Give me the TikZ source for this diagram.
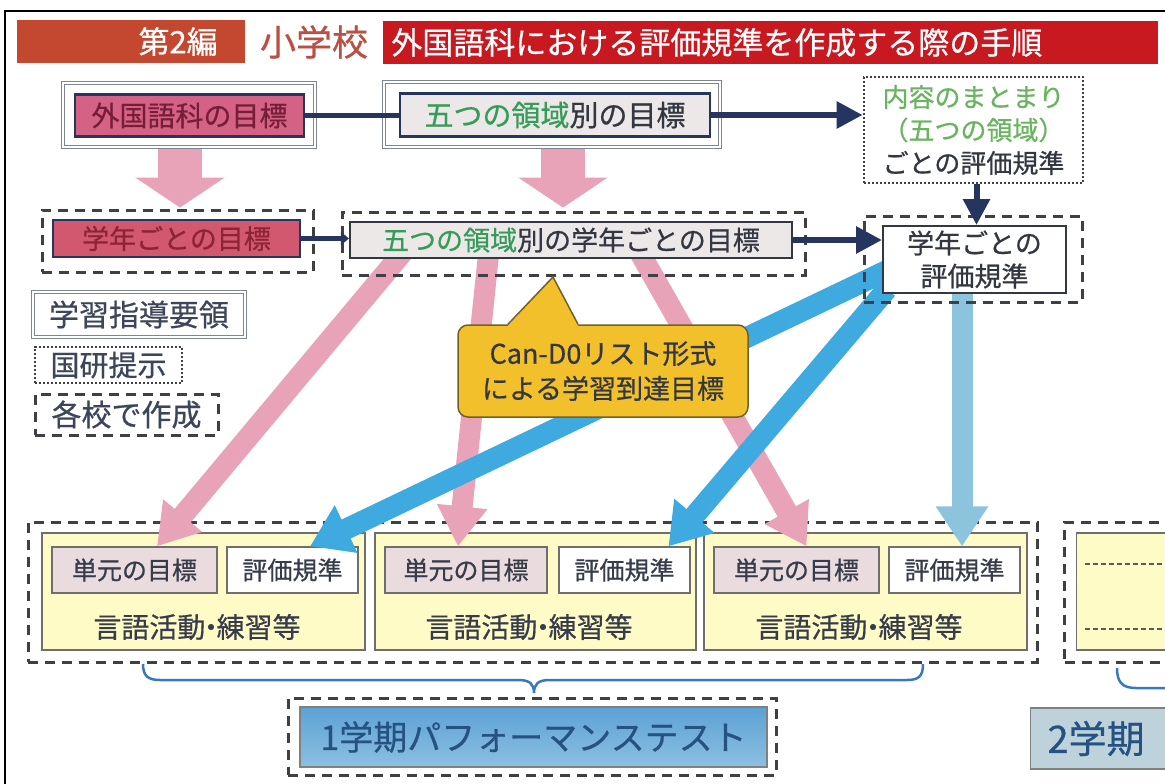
\documentclass[tikz,border=0pt]{standalone}
\usepackage{fontspec}
\setmainfont{Noto Sans CJK JP}[FakeBold=0.6]
\usetikzlibrary{arrows.meta}
\pgfdeclarelayer{bg}
\pgfdeclarelayer{arr}
\pgfsetlayers{bg,arr,main}
\definecolor{titleA}{RGB}{196,72,48}
\definecolor{titleB}{RGB}{200,24,32}
\definecolor{shoR}{RGB}{185,80,68}
\definecolor{pinkbox}{RGB}{212,98,132}
\definecolor{pinkbox2}{RGB}{210,88,112}
\definecolor{maroon}{RGB}{118,30,55}
\definecolor{maroonB}{RGB}{140,35,55}
\definecolor{navy}{RGB}{38,52,96}
\definecolor{frameg}{RGB}{125,135,145}
\definecolor{grayfill}{RGB}{236,232,232}
\definecolor{greenT}{RGB}{55,155,90}
\definecolor{greenL}{RGB}{105,180,95}
\definecolor{darkT}{RGB}{50,55,65}
\definecolor{legT}{RGB}{60,70,90}
\definecolor{dashg}{RGB}{62,64,70}
\definecolor{pinkA}{RGB}{233,163,184}
\definecolor{blueA}{RGB}{62,170,224}
\definecolor{blueB}{RGB}{140,196,222}
\definecolor{callY}{RGB}{242,192,42}
\definecolor{callB}{RGB}{115,95,40}
\definecolor{yel}{RGB}{255,251,198}
\definecolor{ubord}{RGB}{110,110,110}
\definecolor{unitP}{RGB}{234,220,222}
\definecolor{unitT}{RGB}{55,60,75}
\definecolor{braceB}{RGB}{55,120,190}
\definecolor{testA}{RGB}{92,162,212}
\definecolor{testC}{RGB}{140,192,225}
\definecolor{testT}{RGB}{38,82,130}
\definecolor{term2}{RGB}{190,210,220}
\newcommand{\gengo}{言語活動\kern-0.3em・\kern-0.3em練習等}
\begin{document}
\begin{tikzpicture}[x=1pt,y=-1pt,
  wh/.style 2 args={minimum width=#1pt,minimum height=#2pt,inner sep=0pt},
  fs/.style 2 args={font=\fontsize{#1pt}{#2pt}\selectfont},
  dbl/.style={draw=frameg,double=white,double distance=2.2pt,line width=1.1pt},
  navybox/.style={draw=navy,line width=2.6pt},
  dsh/.style={draw=dashg,line width=3pt,dash pattern=on 10pt off 7pt},
  dtt/.style={draw=dashg,line width=2.8pt,dash pattern=on 2.2pt off 1.8pt},
  unitbox/.style={draw=ubord,line width=1.4pt},
  pinkblock/.style={draw=pinkA,line width=44pt,-{Triangle[length=30pt,width=88pt]}},
  pinkarrow/.style={draw=pinkA,line width=21pt,-{Triangle[length=40pt,width=48pt]}},
  bluearrow/.style={draw=blueA,line width=21pt,-{Triangle[length=40pt,width=50pt]}},
  navyarrow/.style={draw=navy,line width=6pt,-{Triangle[length=26pt,width=26pt]}},
  navyline/.style={draw=navy,line width=5pt}
]
\begin{pgfonlayer}{bg}
\fill[white] (0,0) rectangle (1165,784);
\end{pgfonlayer}
\useasboundingbox (0,0) rectangle (1165,784);
\draw[black,line width=1.4pt] (5,800) -- (5,11) -- (1180,11);

% title
\node[fill=titleA,wh={228}{43}] (t1) at (131,41.5) {};
\node[text=white,fs={31}{36},anchor=east] (t1t) at ([xshift=-24pt]t1.east) {第2編};
\node[text=shoR,fs={36}{40}] (t2) at (314,42) {小学校};
\node[fill=titleB,wh={775}{43}] (t3) at (770.5,42.5) {};
\node[text=white,fs={31}{36},anchor=west] (t3t) at ([xshift=5pt]t3.west) {外国語科における評価規準を作成する際の手順};

% bottom row (background layer)
\begin{pgfonlayer}{bg}
\node[dsh,wh={1009}{140}] (g1) at (532.5,592) {};
\node[unitbox,fill=yel,wh={323}{117}] (u1) at (203.5,591.5) {};
\node[unitbox,fill=yel,wh={321}{117}] (u2) at (535.5,591.5) {};
\node[unitbox,fill=yel,wh={323}{117}] (u3) at (865.5,591.5) {};
\node[unitbox,fill=unitP,text=unitT,fs={25}{30},wh={165}{46}] (a1) at (134.5,570) {単元の目標};
\node[unitbox,fill=white,text=unitT,fs={25}{30},wh={131}{46}] (b1) at (292.5,570) {評価規準};
\node[unitbox,fill=unitP,text=unitT,fs={25}{30},wh={162}{46}] (a2) at (466,570) {単元の目標};
\node[unitbox,fill=white,text=unitT,fs={25}{30},wh={131}{46}] (b2) at (624.5,570) {評価規準};
\node[unitbox,fill=unitP,text=unitT,fs={25}{30},wh={165}{46}] (a3) at (796.5,570) {単元の目標};
\node[unitbox,fill=white,text=unitT,fs={25}{30},wh={131}{46}] (b3) at (954.5,570) {評価規準};
\node[text=unitT,fs={28}{30}] (c1) at (197,627) {\gengo};
\node[text=unitT,fs={28}{30}] (c2) at (529,627) {\gengo};
\node[text=unitT,fs={28}{30}] (c3) at (859,627) {\gengo};
\node[dsh,wh={130}{140},anchor=west] (g2) at (1063,592) {};
\node[unitbox,fill=yel,wh={120}{117},anchor=west] (u4) at (1076,591.5) {};
\draw[gray!70!black,line width=1.8pt,dash pattern=on 5pt off 3pt] ([xshift=9pt,yshift=-32pt]u4.north west) -- ++(100,0);
\draw[gray!70!black,line width=1.8pt,dash pattern=on 5pt off 3pt] ([xshift=9pt,yshift=-97pt]u4.north west) -- ++(100,0);
\end{pgfonlayer}

% braces
\draw[braceB,line width=2.5pt] (143,664) .. controls (143,676) and (148,680) .. (160,680) -- (518,680) .. controls (530,680) and (534,684) .. (534,693) .. controls (534,684) and (538,680) .. (550,680) -- (907,680) .. controls (919,680) and (923,676) .. (923,664);
\draw[braceB,line width=2.5pt] (1117,668) .. controls (1117,682) and (1122,688) .. (1136,688) -- (1180,688);

% tests
\node[dsh,wh={488}{77}] (T1o) at (532,736.5) {};
\node[draw=gray,line width=1.2pt,top color=testA,bottom color=testC,text=testT,fs={34}{38},wh={467}{60}] (T1) at (533.5,737) {1学期パフォーマンステスト};
\node[draw=gray,line width=1.2pt,fill=term2,wh={150}{61},anchor=west] (T2) at (1030,738.5) {};
\node[text=testT,fs={38}{42},anchor=west] (T2t) at ([xshift=14pt]T2.west) {2学期};

% row 1
\node[dbl,fill=white,wh={252}{64}] (r1o) at (189,115) {};
\node[navybox,fill=pinkbox,text=maroon,fs={28}{32},wh={229}{42}] (r1) at (189.5,115.5) {外国語科の目標};
\node[dbl,fill=white,wh={336}{65}] (r2o) at (552,114.5) {};
\node[navybox,fill=grayfill,text=darkT,fs={29}{33},wh={310}{43}] (r2) at (555,115) {\textcolor{greenT}{五つの領域}別の目標};
\node[dtt,fill=white,wh={219}{106},align=center,fs={26}{33},text=darkT] (r3) at (973.5,130) {\textcolor{greenL}{内容のまとまり}\\\textcolor{greenL}{（五つの領域）}\\ごとの評価規準};

% row 2
\node[dsh,wh={271}{62}] (s1o) at (177.5,241) {};
\node[draw=navy,line width=2.2pt,fill=pinkbox2,text=maroonB,fs={27}{31},wh={247}{37}] (s1) at (176.5,238.5) {学年ごとの目標};
\node[dsh,wh={463}{63}] (s2o) at (573.5,243.5) {};
\node[draw=darkT,line width=2.2pt,fill=grayfill,text=darkT,fs={27}{31},wh={442}{36}] (s2) at (571,240) {\textcolor{greenT}{五つの領域}別の学年ごとの目標};
\node[dsh,wh={218}{86}] (s3o) at (973,259) {};
\node[draw=darkT,line width=2pt,fill=white,text=darkT,fs={27}{33},align=center,wh={183}{67}] (s3) at (974.5,259.5) {学年ごとの\\評価規準};

% navy connectors
\draw[navyline] (r1.east) -- (r1.east -| r2.west);
\draw[navyarrow] (r2.east) -- (r2.east -| r3.west);
\draw[navyline,-{Triangle[length=8pt,width=13pt]}] (s1.east) -- (s1.east -| s2.west);
\draw[navyarrow] (s2.east) -- (s2.east -| s3.west);
\draw[navyarrow] ([xshift=3pt]r3.south) -- ([xshift=3pt]r3.south |- s3.north);

% legend
\node[dbl,fill=white,text=legT,fs={30}{34},wh={212}{45}] (L1) at (139,314.5) {学習指導要領};
\node[dtt,text=legT,fs={29}{33},wh={147}{36}] (L2) at (108.5,365) {国研提示};
\node[dsh,text=legT,fs={30}{34},wh={183}{41}] (L3) at (126.5,414.5) {各校で作成};

% thick arrows (arrow layer, below the boxes)
\begin{pgfonlayer}{arr}
\draw[pinkblock] ([xshift=-9pt]r1o.south) -- ++(0,60);
\draw[pinkblock] ([xshift=11pt]r2o.south) -- ++(0,60);
\draw[pinkarrow] ([xshift=55pt,yshift=8pt]s2.south west) -- ([xshift=22.5pt]a1.north);
\draw[pinkarrow] ([xshift=140pt,yshift=8pt]s2.south west) -- ([xshift=-8pt]a2.north);
\draw[pinkarrow] ([xshift=290pt,yshift=8pt]s2.south west) -- ([xshift=10pt]a3.north);
\draw[bluearrow] ([xshift=7pt,yshift=-10pt]s3.west) -- ([xshift=17.5pt]b1.north);
\draw[bluearrow] ([xshift=5pt,yshift=5pt]s3.south west) -- ([xshift=44pt]b2.north);
\draw[bluearrow,draw=blueB] ([xshift=-12.5pt,yshift=5pt]s3.south) -- ([xshift=7.5pt]b3.north);
\end{pgfonlayer}

% callout
\node[draw=callB,line width=1.5pt,fill=callY,rounded corners=10pt,wh={290}{92},align=center,text=darkT,fs={27}{35}] (co) at (603,371) {Can-D0リスト形式\\による学習到達目標};
\coordinate (cotip) at (553,277);
\fill[callY] ([xshift=-95pt,yshift=-1.5pt]co.north) -- (cotip) -- ([xshift=-25pt,yshift=-1.5pt]co.north) -- cycle;
\draw[callB,line width=1.5pt] ([xshift=-95pt]co.north) -- (cotip) -- ([xshift=-25pt]co.north);
\end{tikzpicture}
\end{document}
